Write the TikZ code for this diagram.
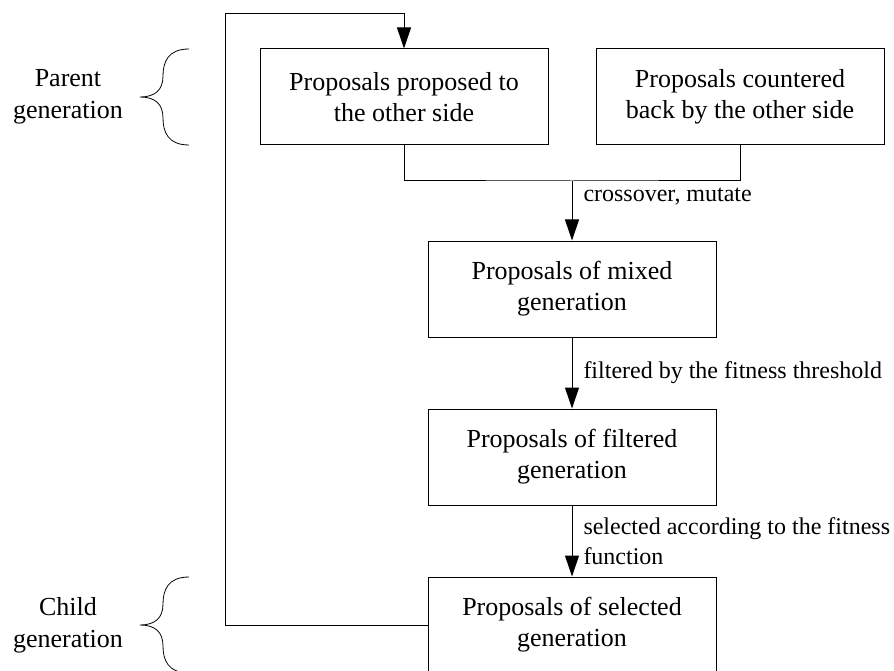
\documentclass[tikz,border=0pt]{standalone}
\usepackage{fontspec}
\setmainfont{Liberation Serif}
\usetikzlibrary{arrows.meta}

\tikzset{
  stage/.style={draw, line width=1pt, minimum width=288pt, minimum height=96pt,
    inner sep=0pt, align=center, font=\fontsize{26}{31}\selectfont},
  link/.style={line width=1pt},
  arr/.style={link, -{Triangle[length=21pt,width=14pt]}},
  lbl/.style={align=left, inner sep=0pt, font=\fontsize{24}{30}\selectfont},
  side/.style={align=center, inner sep=0pt, font=\fontsize{26}{32}\selectfont},
  curly/.pic={
    \draw[line width=0.8pt] (0,0) .. controls (-21,0) and (-26,13) .. (-26,27)
      .. controls (-26,41) and (-34,48) .. (-49,48)
      .. controls (-34,48) and (-26,55) .. (-26,69)
      .. controls (-26,83) and (-21,96) .. (0,96);
  }
}

\begin{document}
\begin{tikzpicture}[x=1pt, y=-1pt]
  \useasboundingbox (0,0) rectangle (894,671);

  % generation stages
  \node[stage] (p1)  at (404,97)  {Proposals proposed to\\the other side};
  \node[stage] (p2)  at (740,97)  {Proposals countered\\back by the other side};
  \node[stage] (mix) at (572,289) {Proposals of mixed\\generation};
  \node[stage] (fil) at (572,457) {Proposals of filtered\\generation};
  \node[stage] (sel) at (572,625) {Proposals of selected\\generation};

  % side captions with braces
  \node[side] (par) at (68,97)  {Parent\\generation};
  \node[side] (chi) at (68,625) {Child\\generation};
  \pic at (189,49)  {curly};
  \pic at (189,577) {curly};

  % both parent sets merge into one stream
  \coordinate (join) at (572,181);
  \draw[link] (p1.south) |- (join) -| (p2.south);
  \draw[arr] (join) -- node[lbl, anchor=west, pos=0.27, xshift=11pt] (l1) {crossover, mutate} (mix.north);
  \draw[arr] (mix.south) -- node[lbl, anchor=west, pos=0.5, xshift=11pt] (l2) {filtered by the fitness threshold} (fil.north);
  \draw[arr] (fil.south) -- node[lbl, anchor=west, pos=0.5, xshift=11pt] (l3) {selected according to the fitness\\function} (sel.north);

  % the selected generation feeds back as the next parents
  \coordinate (loop) at (225,14);
  \draw[arr] (sel.west) -| (loop) -| (p1.north);
\end{tikzpicture}
\end{document}
